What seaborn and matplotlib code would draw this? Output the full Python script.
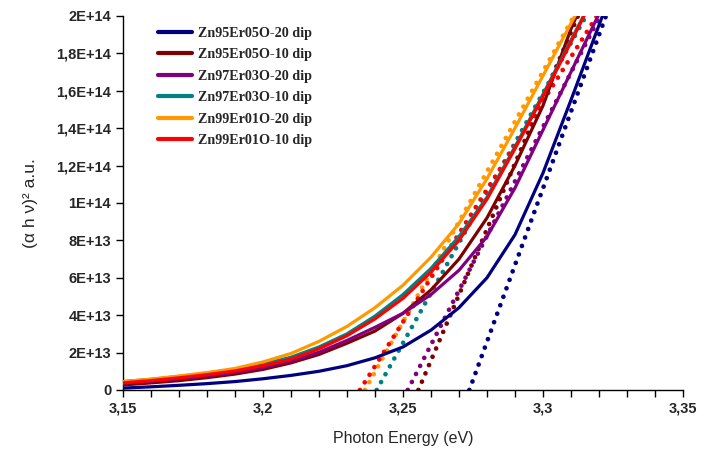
import numpy as np
import pandas as pd
import seaborn as sns
import matplotlib
matplotlib.use("Agg")
import matplotlib.pyplot as plt
from matplotlib.ticker import FuncFormatter, MultipleLocator

# Photon energy grid (eV) for the measured Tauc curves
energy = [3.15, 3.16, 3.17, 3.18, 3.19, 3.20, 3.21, 3.22, 3.23, 3.24,
          3.25, 3.26, 3.27, 3.28, 3.29, 3.30, 3.31, 3.32, 3.33]

samples = ["Zn95Er05O-20 dip", "Zn95Er05O-10 dip", "Zn97Er03O-20 dip",
           "Zn97Er03O-10 dip", "Zn99Er01O-20 dip", "Zn99Er01O-10 dip"]
colors = ["#000080", "#800000", "#800080", "#008080", "#FF9900", "#FF0000"]

# (alpha h nu)^2 in units of 1e13
zn95_20 = [0.10, 0.17, 0.25, 0.34, 0.45, 0.60, 0.78, 1.00, 1.30, 1.72,
           2.30, 3.20, 4.40, 6.00, 8.30, 11.6, 15.5, 19.5, 23.5]
zn95_10 = [0.27, 0.38, 0.50, 0.66, 0.85, 1.10, 1.45, 1.90, 2.50, 3.15,
           4.10, 5.35, 7.00, 9.20, 12.0, 15.2, 19.3, 22.8, 26.5]
zn97_20 = [0.37, 0.48, 0.60, 0.76, 0.95, 1.20, 1.55, 2.02, 2.65, 3.35,
           4.10, 5.10, 6.40, 8.20, 10.8, 13.9, 17.0, 20.1, 23.1]
zn97_10 = [0.45, 0.57, 0.72, 0.90, 1.10, 1.38, 1.75, 2.30, 3.00, 3.95,
           5.10, 6.50, 8.20, 10.3, 13.0, 15.8, 18.7, 21.6, 24.5]
zn99_20 = [0.45, 0.58, 0.75, 0.93, 1.15, 1.50, 1.95, 2.60, 3.40, 4.40,
           5.60, 7.10, 8.90, 11.3, 14.0, 16.8, 19.6, 22.4, 25.2]
zn99_10 = [0.38, 0.50, 0.65, 0.82, 1.02, 1.30, 1.65, 2.20, 2.90, 3.80,
           4.90, 6.30, 8.00, 10.2, 12.9, 15.7, 18.6, 21.6, 24.6]
curves = [zn95_20, zn95_10, zn97_20, zn97_10, zn99_20, zn99_10]

# Linear fits of the absorption edge: band gap (x-intercept) and energy at 2E+14
fit_gap = [3.2737, 3.2555, 3.2517, 3.2406, 3.2364, 3.2346]
fit_top = [3.3225, 3.3125, 3.3204, 3.3154, 3.3111, 3.3193]
fit_y = [0.0, 2.0e14]

rows = []
for name, vals in zip(samples, curves):
    for e, v in zip(energy, vals):
        rows.append({"energy": e, "value": v * 1e13, "sample": name})
df = pd.DataFrame(rows)

fit_rows = []
for name, g, t in zip(samples, fit_gap, fit_top):
    fit_rows.append({"energy": g, "value": fit_y[0], "sample": name})
    fit_rows.append({"energy": t, "value": fit_y[1], "sample": name})
fits = pd.DataFrame(fit_rows)

sns.set_style("white")
plt.rcParams["font.family"] = ["Liberation Sans", "DejaVu Sans"]

fig = plt.figure(figsize=(7.07, 4.54), dpi=100)
ax = fig.add_axes([0.174, 0.141, 0.792, 0.824])

palette = dict(zip(samples, colors))

# dotted linear fits first, solid curves on top
for name in samples:
    sub = fits[fits["sample"] == name]
    ax.plot(sub["energy"], sub["value"], color=palette[name], lw=3.4,
            linestyle=(0, (0.01, 1.9)), dash_capstyle="round", zorder=2)

sns.lineplot(data=df, x="energy", y="value", hue="sample", palette=palette,
             hue_order=samples, sort=False, lw=2.3, ax=ax, zorder=3)

ax.set_xlim(3.15, 3.35)
ax.set_ylim(0, 2e14)


def fmt_x(v, _):
    s = f"{v:.2f}".rstrip("0").rstrip(".")
    return s.replace(".", ",")


def fmt_y(v, _):
    if abs(v) < 1:
        return "0"
    exp = int(np.floor(np.log10(abs(v)) + 1e-9))
    mant = v / 10 ** exp
    m = f"{mant:.1f}".rstrip("0").rstrip(".").replace(".", ",")
    return f"{m}E+{exp}"


ax.xaxis.set_major_locator(MultipleLocator(0.05))
ax.xaxis.set_minor_locator(MultipleLocator(0.01))
ax.yaxis.set_major_locator(MultipleLocator(2e13))
ax.xaxis.set_major_formatter(FuncFormatter(fmt_x))
ax.yaxis.set_major_formatter(FuncFormatter(fmt_y))
ax.yaxis.get_offset_text().set_visible(False)

ax.tick_params(axis="both", which="both", direction="out", length=5, width=1,
               color="black", labelsize=10.5)
ax.tick_params(axis="x", which="both", bottom=True)
ax.tick_params(axis="y", which="both", left=True)
for lbl in ax.get_xticklabels() + ax.get_yticklabels():
    lbl.set_fontweight("bold")

for side in ["top", "right"]:
    ax.spines[side].set_visible(False)
for side in ["left", "bottom"]:
    ax.spines[side].set_color("black")
    ax.spines[side].set_linewidth(1)

ax.set_xlabel("Photon Energy (eV)", fontsize=11.5, labelpad=11)
ax.set_ylabel("(α h ν)² a.u.", fontsize=12.5, labelpad=13)

leg = ax.legend(loc="upper left", bbox_to_anchor=(0.04, 1.005), frameon=False,
                prop={"family": "Liberation Serif", "weight": "bold", "size": 10.2},
                handlelength=2.4, handletextpad=0.4, labelspacing=0.6)
for line in leg.get_lines():
    line.set_linewidth(3)

fig.savefig("out.png", dpi=100)
